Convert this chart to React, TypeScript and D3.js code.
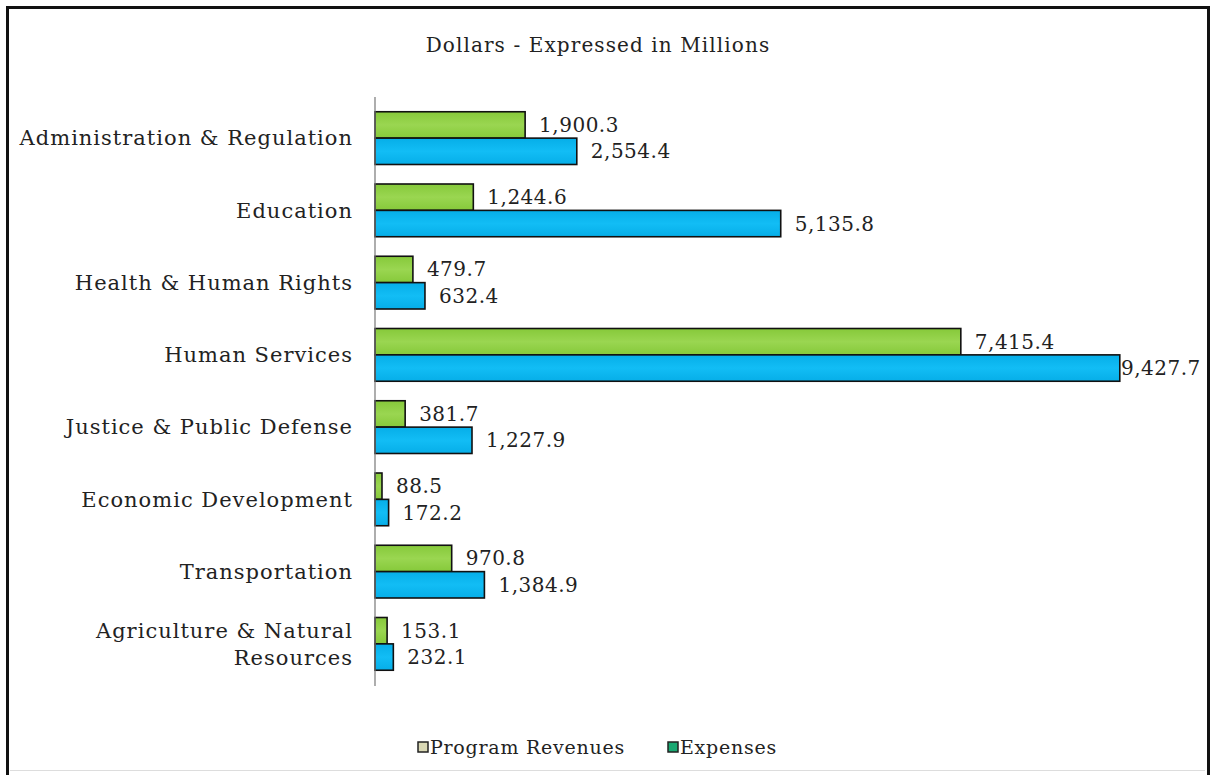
import * as d3 from "d3";

const categories = [
    "Administration & Regulation",
    "Education",
    "Health & Human Rights",
    "Human Services",
    "Justice & Public Defense",
    "Economic Development",
    "Transportation",
    "Agriculture & Natural Resources",
];
const revenues = [1900.3, 1244.6, 479.7, 7415.4, 381.7, 88.5, 970.8, 153.1];
const expenses = [2554.4, 5135.8, 632.4, 9427.7, 1227.9, 172.2, 1384.9, 232.1];
const seriesNames = ["Program Revenues", "Expenses"];

const W = 1211, H = 775;
const font = "'DejaVu Serif', serif";
const fmt = d3.format(",.1f");

export default function App() {
    const x = d3.scaleLinear().domain([0, 10000]).range([375, 1165]);
    const y = d3.scaleBand<string>().domain(categories).range([102, 680]).paddingInner(0.27).paddingOuter(0.135);
    const sub = d3.scaleBand<string>().domain(seriesNames).range([0, y.bandwidth()]);
    const fills = ["url(#gGreen)", "url(#gBlue)"];
    const legendFills = ["#d9d8b4", "#19a872"];

    // label placement; push back inside the frame if it would run off
    const labelX = (v: number) => {
        const end = x(v) + 14;
        return Math.min(end, 1121);
    };

    return (
        <svg width={W} height={H} style={{ position: "absolute", left: 0, top: 0, background: "#fff" }}>
            <defs>
                <linearGradient id="gGreen" x1="0" y1="0" x2="0" y2="1">
                    <stop offset="0" stopColor="#86c93a" />
                    <stop offset="0.5" stopColor="#9ad651" />
                    <stop offset="1" stopColor="#86c93a" />
                </linearGradient>
                <linearGradient id="gBlue" x1="0" y1="0" x2="0" y2="1">
                    <stop offset="0" stopColor="#06aee8" />
                    <stop offset="0.5" stopColor="#12bdf5" />
                    <stop offset="1" stopColor="#06aee8" />
                </linearGradient>
            </defs>
            {/* frame */}
            <path d={`M7.5,${H} V7.5 H1208.5 V${H}`} fill="none" stroke="#111" strokeWidth={3} />
            <line x1={10} x2={1205} y1={770.5} y2={770.5} stroke="#ddd" strokeWidth={1} />

            <text x={598} y={45} dy="0.35em" textAnchor="middle" fontFamily={font} fontSize={20} letterSpacing={1.1} fill="#222">
                Dollars - Expressed in Millions
            </text>

            {categories.map((c, i) => {
                const cy = (y(c) as number) + y.bandwidth() / 2;
                const lines = c === "Agriculture & Natural Resources" ? ["Agriculture & Natural", "Resources"] : [c];
                return (
                    <g key={c}>
                        {lines.map((ln, j) => (
                            <text key={j} x={353} y={cy + (j - (lines.length - 1) / 2) * 27} dy="0.35em"
                                textAnchor="end" fontFamily={font} fontSize={21} letterSpacing={1} fill="#222">{ln}</text>
                        ))}
                        {[revenues[i], expenses[i]].map((v, k) => {
                            const by = (y(c) as number) + (sub(seriesNames[k]) as number);
                            return (
                                <g key={k}>
                                    <rect x={x(0)} y={by} width={x(v) - x(0)} height={sub.bandwidth()}
                                        fill={fills[k]} stroke="#111" strokeWidth={1.6} />
                                    <text x={labelX(v)} y={by + sub.bandwidth() / 2} dy="0.35em"
                                        fontFamily={font} fontSize={20} letterSpacing={0.5} fill="#222">{fmt(v)}</text>
                                </g>
                            );
                        })}
                    </g>
                );
            })}

            <line x1={375} x2={375} y1={97} y2={686} stroke="#777" strokeWidth={1.2} />

            {seriesNames.map((s, k) => {
                const lx = [423, 673][k];
                return (
                    <g key={s}>
                        <rect x={lx - 5} y={742} width={10} height={10} fill={legendFills[k]} stroke="#222" strokeWidth={1.5} />
                        <text x={lx + 7} y={747} dy="0.35em" fontFamily={font} fontSize={19} letterSpacing={0.75} fill="#222">{s}</text>
                    </g>
                );
            })}
        </svg>
    );
}
